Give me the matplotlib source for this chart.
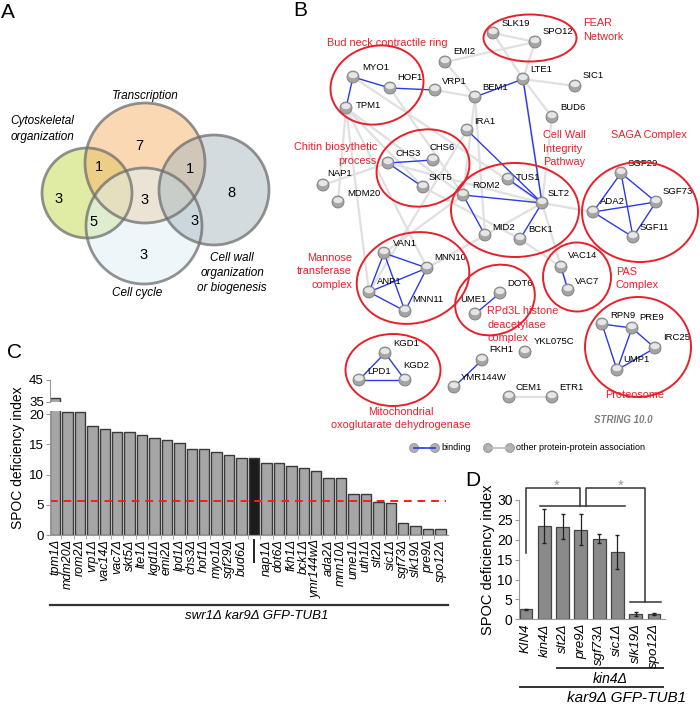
import matplotlib
matplotlib.use("Agg")
import matplotlib.pyplot as plt
from matplotlib.patches import Circle, Ellipse
import numpy as np

plt.rcParams["font.family"] = ["Liberation Sans", "DejaVu Sans"]

# ---- panel A: Venn counts ----
venn_sets = ["Cytoskeletal\norganization", "Transcription", "Cell cycle",
             "Cell wall\norganization\nor biogenesis"]
venn_counts = [3, 7, 3, 8, 1, 5, 3, 1, 3]
venn_count_pos = [(59, 199), (139, 146), (144, 255), (231, 193), (99, 167),
                  (94, 222), (145, 200), (190, 169), (195, 221)]

# ---- panel B: network ----
nodes = {
    "SLK19": (493, 33), "SPO12": (535, 42), "EMI2": (445, 62), "MYO1": (353, 77),
    "HOF1": (390, 88), "TPM1": (346, 108), "VRP1": (435, 90), "BEM1": (475, 97),
    "LTE1": (523, 79), "SIC1": (575, 86), "BUD6": (552, 117), "IRA1": (467, 130),
    "CHS3": (388, 163), "CHS6": (433, 160), "SKT5": (423, 187), "NAP1": (323, 185),
    "MDM20": (338, 202), "TUS1": (508, 179), "ROM2": (463, 195), "SLT2": (542, 203),
    "MID2": (485, 235), "BCK1": (520, 239), "SGF29": (621, 173), "SGF73": (656, 202),
    "ADA2": (593, 212), "SGF11": (633, 237), "VAN1": (384, 253), "MNN10": (427, 268),
    "ANP1": (369, 292), "MNN11": (405, 311), "DOT6": (500, 293), "UME1": (475, 314),
    "VAC14": (561, 267), "VAC7": (568, 290), "RPN9": (602, 324), "PRE9": (632, 328),
    "IRC25": (655, 348), "UMP1": (617, 370), "KGD1": (385, 353), "LPD1": (359, 380),
    "KGD2": (405, 380), "FKH1": (482, 360), "YKL075C": (525, 352),
    "YMR144W": (454, 387), "CEM1": (509, 397), "ETR1": (552, 397),
}
node_labels = {
    "SLK19": (502, 23), "SPO12": (543, 31), "EMI2": (453, 52), "MYO1": (362, 67),
    "HOF1": (397, 78), "TPM1": (356, 105), "VRP1": (442, 81), "BEM1": (482, 88),
    "LTE1": (530, 70), "SIC1": (583, 76), "BUD6": (560, 108), "IRA1": (474, 121),
    "CHS3": (395, 154), "CHS6": (430, 147), "SKT5": (429, 177), "NAP1": (327, 173),
    "MDM20": (347, 193), "TUS1": (516, 178), "ROM2": (472, 186), "SLT2": (548, 194),
    "MID2": (492, 227), "BCK1": (528, 229), "SGF29": (628, 164), "SGF73": (663, 192),
    "ADA2": (600, 202), "SGF11": (640, 228), "VAN1": (393, 243), "MNN10": (434, 257),
    "ANP1": (377, 281), "MNN11": (412, 299), "DOT6": (507, 284), "UME1": (460, 300),
    "VAC14": (568, 256), "VAC7": (575, 281), "RPN9": (610, 315), "PRE9": (639, 318),
    "IRC25": (663, 338), "UMP1": (623, 360), "KGD1": (393, 343), "LPD1": (367, 371),
    "KGD2": (403, 365), "FKH1": (489, 349), "YKL075C": (534, 342),
    "YMR144W": (461, 377), "CEM1": (516, 387), "ETR1": (559, 387),
}
binding_edges = [
    ("MYO1", "HOF1"), ("MYO1", "TPM1"), ("HOF1", "VRP1"), ("BEM1", "LTE1"),
    ("LTE1", "SLT2"), ("IRA1", "SLT2"), ("CHS3", "CHS6"), ("CHS3", "SKT5"),
    ("ROM2", "SLT2"), ("TUS1", "SLT2"), ("ROM2", "MID2"), ("SLT2", "BCK1"),
    ("SGF29", "ADA2"), ("SGF29", "SGF11"), ("SGF29", "SGF73"), ("ADA2", "SGF73"),
    ("ADA2", "SGF11"), ("SGF73", "SGF11"), ("VAN1", "MNN10"), ("VAN1", "ANP1"),
    ("VAN1", "MNN11"), ("ANP1", "MNN10"), ("ANP1", "MNN11"), ("MNN10", "MNN11"),
    ("UME1", "DOT6"), ("VAC14", "VAC7"), ("RPN9", "PRE9"), ("RPN9", "UMP1"),
    ("PRE9", "UMP1"), ("PRE9", "IRC25"), ("IRC25", "UMP1"), ("KGD1", "LPD1"),
    ("KGD1", "KGD2"), ("LPD1", "KGD2"), ("FKH1", "YMR144W"),
]
other_edges = [
    ("SLK19", "SPO12"), ("SLK19", "LTE1"), ("SPO12", "LTE1"), ("EMI2", "SPO12"),
    ("EMI2", "BEM1"), ("VRP1", "BEM1"), ("LTE1", "SIC1"), ("LTE1", "BUD6"),
    ("LTE1", "SLT2"), ("BEM1", "ROM2"), ("BEM1", "MID2"), ("TPM1", "ROM2"),
    ("TPM1", "SKT5"), ("MYO1", "SLT2"), ("TPM1", "MNN10"), ("HOF1", "ROM2"),
    ("NAP1", "CHS3"), ("CHS3", "SLT2"), ("SKT5", "BCK1"), ("BUD6", "SLT2"),
    ("SLT2", "ADA2"), ("SLT2", "VAC7"), ("IRA1", "ANP1"), ("VAN1", "ROM2"),
    ("MNN10", "SLT2"), ("CEM1", "ETR1"), ("TPM1", "ANP1"), ("MDM20", "TPM1"),
    ("MID2", "MNN10"), ("BCK1", "VAC14"),
]
clusters = [  # centre, width, height, angle
    ((377, 85), 94, 78, -15), ((530, 38), 93, 47, 0), ((423, 168), 94, 76, -15),
    ((515, 210), 128, 94, 0), ((640, 212), 116, 100, 0), ((413, 278), 114, 90, -15),
    ((495, 300), 82, 68, -25), ((577, 277), 68, 69, 0), ((638, 347), 106, 100, 0),
    ((393, 370), 95, 72, 0),
]
# name lines, x, y of first line, alignment
cluster_names = [
    (["Bud neck contractile ring"], 387, 43, "center"),
    (["FEAR", "Network"], 583, 23, "left"),
    (["Chitin biosythetic", "process"], 377, 147, "right"),
    (["Cell Wall", "Integrity", "Pathway"], 543, 135, "left"),
    (["SAGA Complex"], 649, 135, "center"),
    (["Mannose", "transferase", "complex"], 352, 258, "right"),
    (["RPd3L histone", "deacetylase", "complex"], 487, 311, "left"),
    (["PAS", "Complex"], 616, 272, "left"),
    (["Proteosome"], 635, 395, "center"),
    (["Mitochondrial", "oxoglutarate dehydrogenase"], 401, 412, "center"),
]

# ---- panel C ----
c_genes = ["tpm1Δ", "mdm20Δ", "rom2Δ", "vrp1Δ", "vac14Δ", "vac7Δ", "skt5Δ", "lte1Δ",
           "kgd1Δ", "emi2Δ", "lpd1Δ", "chs3Δ", "hof1Δ", "myo1Δ", "sgf29Δ", "bud6Δ",
           "", "nap1Δ", "dot6Δ", "fkh1Δ", "bck1Δ", "ymr144wΔ", "ada2Δ",
           "mnn10Δ", "ume1Δ", "uth1Δ", "slt2Δ", "sic1Δ", "sgf73Δ", "slk19Δ",
           "pre9Δ", "spo12Δ"]
c_values = [36.6, 20.3, 20.3, 18.0, 17.5, 17.1, 17.1, 16.6, 16.1, 15.7, 15.2, 14.3,
            14.3, 13.8, 13.3, 12.8, 12.8, 11.9, 11.9, 11.4, 11.0, 10.5, 9.5, 9.5,
            6.7, 6.7, 5.5, 5.3, 2.0, 1.5, 1.0, 1.0]
c_control = 16
c_cutoff = 5.7

# ---- panel D ----
d_labels = ["KIN4", "kin4Δ", "slt2Δ", "pre9Δ", "sgf73Δ", "sic1Δ", "slk19Δ", "spo12Δ"]
d_values = [2.5, 23.5, 23.3, 22.5, 20.3, 16.9, 1.4, 1.3]
d_errors = [0.2, 4.3, 3.1, 3.9, 1.2, 4.2, 0.5, 0.3]

RED = "#e8202a"
W, H = 700, 704
fig = plt.figure(figsize=(W / 100, H / 100), dpi=100)

# overlay in pixel coordinates for A, B and free annotations
ov = fig.add_axes([0, 0, 1, 1])
ov.set_xlim(0, W)
ov.set_ylim(H, 0)
ov.axis("off")

for letter, (x, y) in zip("ABCD", [(8, 12), (300, 10), (15, 353), (473, 480)]):
    ov.text(x, y, letter, fontsize=15, ha="center", va="center")

# A
venn_circles = [((87, 193), 45, "#c3d94b"), ((145, 163), 60, "#f9b36a"),
                ((144, 226), 58, "#ddf0f6"), ((214, 190), 55, "#a8b8bf")]
for (c, r, col) in venn_circles:
    ov.add_patch(Circle(c, r, fc=col, alpha=0.5, ec="none"))
for (c, r, col) in venn_circles:
    ov.add_patch(Circle(c, r, fc="none", ec="#6e6e6e", lw=2, alpha=0.75))
for n, (x, y) in zip(venn_counts, venn_count_pos):
    ov.text(x, y, str(n), fontsize=10.5, ha="center", va="center")
for name, (x, y) in zip(venn_sets, [(42, 129), (145, 96), (137, 293), (232, 273)]):
    ov.text(x, y, name, fontsize=8.5, style="italic", ha="center", va="center",
            linespacing=1.35)

# B
for a, b in other_edges:
    (x1, y1), (x2, y2) = nodes[a], nodes[b]
    ov.plot([x1, x2], [y1, y2], color="#e0e0e0", lw=1.6, zorder=1)
for a, b in binding_edges:
    (x1, y1), (x2, y2) = nodes[a], nodes[b]
    ov.plot([x1, x2], [y1, y2], color="#2b3be6", lw=1.0, zorder=2)
for name, (x, y) in nodes.items():
    ov.add_patch(Circle((x, y), 6, fc="#a4a4a4", ec="#7c7c7c", lw=0.6, zorder=3))
    ov.add_patch(Ellipse((x, y - 1.8), 9, 6, fc="#f2f2f2", ec="none", alpha=0.85,
                         zorder=4))
    lx, ly = node_labels[name]
    ov.text(lx, ly, name, fontsize=6.8, ha="left", va="center", zorder=5)
for (c, w, h, ang) in clusters:
    ov.add_patch(Ellipse(c, w, h, angle=ang, fc="none", ec=RED, lw=1.4, zorder=6))
for (lines, x, y, ha) in cluster_names:
    for k, line in enumerate(lines):
        ov.text(x, y + 13.5 * k, line, fontsize=7.8, color=RED, ha=ha, va="center",
                zorder=7)
ov.text(623, 420, "STRING 10.0", fontsize=7, color="#808080", fontweight="bold",
        style="italic", ha="center", va="center")
# legend
for (x1, x2, col, txt) in [(414, 435, "#2b3be6", "binding"),
                           (488, 510, "#bbbbbb", "other protein-protein association")]:
    ov.plot([x1, x2], [448, 448], color=col, lw=1.2)
    for x in (x1, x2):
        ov.add_patch(Circle((x, 448), 4.5, fc="#b0b0b0", ec="#8a8a8a", lw=0.5))
    ov.text(x2 + 6, 448, txt, fontsize=6.5, ha="left", va="center")

# C
xc = np.arange(len(c_values))
colors = ["#a6a6a6"] * len(c_values)
colors[c_control] = "#1c1c1c"
axl = fig.add_axes([50 / W, (H - 535) / H, 398 / W, 124 / H])
axt = fig.add_axes([50 / W, (H - 401.7) / H, 398 / W, 21.7 / H])
for ax in (axl, axt):
    ax.patch.set_visible(False)
    ax.bar(xc, c_values, width=0.84, color=colors, edgecolor="#3a3a3a", lw=1.0)
    ax.set_xlim(-0.4, 31.6)
    for s in ("top", "right"):
        ax.spines[s].set_visible(False)
    ax.spines["left"].set_color("#9a9a9a")
    ax.tick_params(axis="y", colors="#9a9a9a", labelcolor="black", labelsize=9.5,
                   length=3, pad=1.5)
axl.set_ylim(0, 20.5)
axl.set_yticks([0, 5, 10, 15, 20])
axl.axhline(c_cutoff, color="#ff1a1a", lw=1.4, ls=(0, (4, 3)), xmax=0.995)
axl.spines["bottom"].set_color("#9a9a9a")
axl.set_xticks(xc)
axl.set_xticklabels(c_genes, rotation=90, style="italic", fontsize=9)
axl.set_xticks(xc[:-1] + 0.5, minor=True)
axl.tick_params(axis="x", which="major", length=0, pad=3)
axl.tick_params(axis="x", which="minor", length=3, colors="#9a9a9a")
# short vertical mark under the control bar
axl.plot([c_control, c_control], [-0.04, -0.22], color="#222222", lw=1.4,
         transform=axl.get_xaxis_transform(), clip_on=False)
axl.set_ylabel("SPOC deficiency index", fontsize=10)
axl.yaxis.set_label_coords(-0.062, 0.62)
axt.set_ylim(35, 45)
axt.set_yticks([35, 45])
axt.spines["bottom"].set_visible(False)
axt.set_xticks([])
ov.plot([50, 448], [605, 605], color="#333333", lw=1.6)
ov.text(257, 616, "swr1Δ kar9Δ GFP-TUB1", fontsize=9.5, style="italic",
        ha="center", va="center")

# D
xd = np.arange(len(d_values))
axd = fig.add_axes([518.7 / W, (H - 619.3) / H, 146.3 / W, 119.3 / H])
axd.patch.set_visible(False)
axd.bar(xd, d_values, width=0.7, color="#8a8a8a", edgecolor="#454545", lw=0.9,
        yerr=d_errors, error_kw=dict(ecolor="#222222", elinewidth=0.9, capsize=1.5))
axd.set_xlim(-0.4, 7.6)
axd.set_ylim(0, 30)
axd.set_yticks([0, 5, 10, 15, 20, 25, 30])
for s in ("top", "right"):
    axd.spines[s].set_visible(False)
for s in ("left", "bottom"):
    axd.spines[s].set_color("#9a9a9a")
axd.tick_params(axis="y", colors="#9a9a9a", labelcolor="black", labelsize=10,
                length=3, pad=1.5)
axd.set_xticks(xd)
axd.set_xticklabels(d_labels, rotation=90, style="italic", fontsize=9.5)
axd.tick_params(axis="x", length=0, pad=3)
axd.set_ylabel("SPOC deficiency index", fontsize=10.5)
axd.yaxis.set_label_coords(-0.16, 0.5)
brk = dict(color="#333333", lw=1.1, clip_on=False)
axd.plot([0, 0, 2.95, 2.95], [16.6, 33.1, 33.1, 28.5], **brk)
axd.plot([3.3, 3.3, 6.5, 6.5], [28.5, 33.1, 33.1, 4.4], **brk)
axd.plot([0.77, 5.4], [28.5, 28.5], **brk)
axd.plot([5.7, 7.4], [4.4, 4.4], **brk)
for xs in (1.68, 5.2):
    axd.text(xs, 33.6, "*", color="#999999", fontsize=11, ha="center", va="center")
ov.plot([557, 663], [668, 668], color="#333333", lw=1.4)
ov.text(610, 679, "kin4Δ", fontsize=10, style="italic", ha="center", va="center")
ov.plot([520, 663], [687, 687], color="#333333", lw=1.4)
ov.text(627, 698, "kar9Δ GFP-TUB1", fontsize=11, style="italic", ha="center",
        va="center")

fig.savefig("out.png", dpi=100)
